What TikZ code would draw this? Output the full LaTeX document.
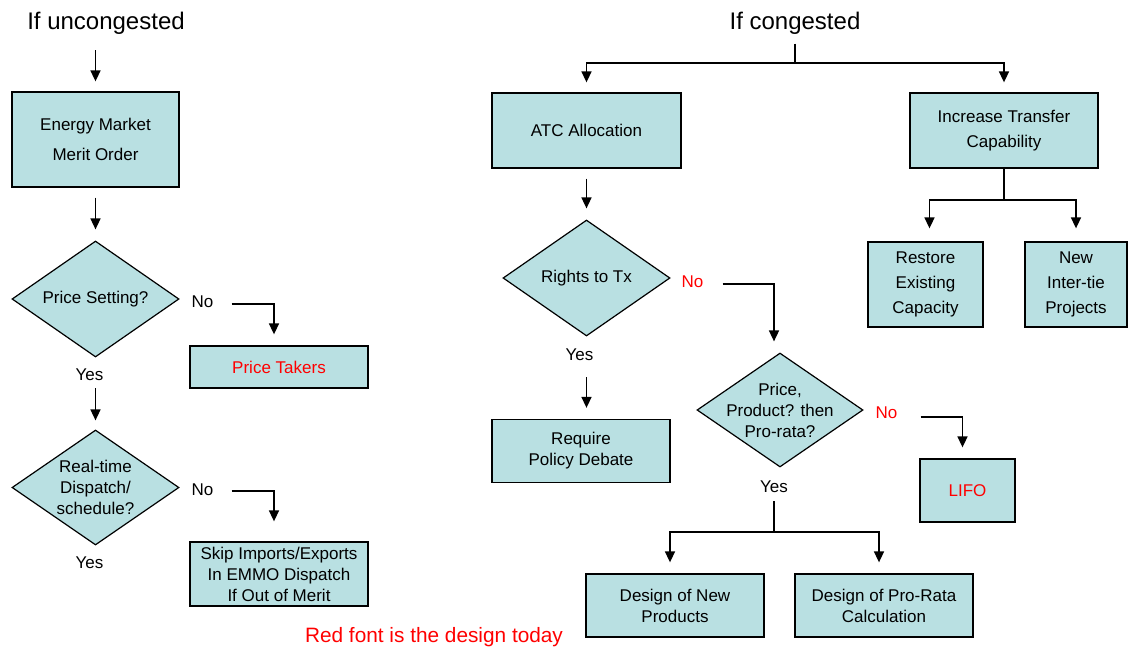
\documentclass[tikz,border=0pt]{standalone}
\usepackage{fontspec}
\setmainfont{Liberation Sans}
\usetikzlibrary{arrows.meta,shapes.geometric}
\definecolor{boxfill}{RGB}{185,224,226}

\begin{document}
\begin{tikzpicture}[
    x=1pt,
    y=-1pt,
    box/.style={
        draw,
        fill=boxfill,
        line width=1.3pt,
        align=center,
        inner sep=0pt,
        font=\fontsize{17}{21}\selectfont
    },
    decision/.style={
        diamond,
        draw,
        fill=boxfill,
        line width=1.2pt,
        inner sep=0pt
    },
    qtext/.style={
        align=center,
        inner sep=0pt,
        font=\fontsize{17}{21}\selectfont
    },
    answer/.style={
        anchor=base,
        inner sep=0pt,
        font=\fontsize{17}{21}\selectfont
    },
    headline/.style={
        anchor=base,
        inner sep=0pt,
        font=\fontsize{24}{28}\selectfont
    },
    arr/.style={
        line width=1.6pt,
        -{Triangle[length=11pt,width=10pt]}
    },
    link/.style={
        line width=1.6pt
    }
]

\useasboundingbox (0,0) rectangle (1128,646);

% =================================================
% Titles
% =================================================

\node[headline] (uncong) at (106,29.5) {If uncongested};
\node[headline] (cong)   at (795,29.5) {If congested};

% =================================================
% Left branch: uncongested
% =================================================

\node[box, minimum width=167pt, minimum height=95pt,
      font=\fontsize{17}{30}\selectfont] (energy) at (95.5,139.5)
    {Energy Market\\Merit Order};

\node[decision, minimum width=167pt, minimum height=116pt,
      label={[qtext]center:Price Setting?}] (price) at (95.5,299) {};

\node[answer] (no1)  at (202.5,307) {No};
\node[answer] (yes1) at (89.5,380)  {Yes};

\node[box, minimum width=178pt, minimum height=42pt,
      text=red] (takers) at (279,367) {Price Takers};

\node[decision, minimum width=167pt, minimum height=115pt,
      label={[qtext]center:Real-time\\Dispatch/\\schedule?}] (realtime) at (95.5,487.5) {};

\node[answer] (no2)  at (202.5,495) {No};
\node[answer] (yes2) at (89.5,568)  {Yes};

\node[box, minimum width=178pt, minimum height=64pt] (skip) at (279,574)
    {Skip Imports/Exports\\In EMMO Dispatch\\If Out of Merit};

% =================================================
% Right branch: congested
% =================================================

\node[box, minimum width=189pt, minimum height=75pt] (atc) at (586.5,130.5)
    {ATC Allocation};

\node[box, minimum width=188pt, minimum height=75pt,
      font=\fontsize{17}{25}\selectfont] (increase) at (1004,130.5)
    {Increase Transfer\\Capability};

\node[box, minimum width=115pt, minimum height=85pt,
      font=\fontsize{17}{25}\selectfont] (restore) at (925.5,284.5)
    {Restore\\Existing\\Capacity};

\node[box, minimum width=102pt, minimum height=85pt,
      font=\fontsize{17}{25}\selectfont] (newtie) at (1076,284.5)
    {New\\Inter-tie\\Projects};

\node[decision, minimum width=167pt, minimum height=116pt,
      label={[qtext]center:Rights to Tx}] (rights) at (586.5,278) {};

\node[answer, text=red] (no3) at (692.5,287) {No};
\node[answer]          (yes3) at (579.5,360) {Yes};

\node[box, minimum width=178pt, minimum height=63pt] (policy) at (581,451)
    {Require\\Policy Debate};

\node[decision, minimum width=166pt, minimum height=114pt,
      label={[qtext]center:{Price,\\Product? then\\Pro-rata?}}] (prorata) at (780,410) {};

\node[answer, text=red] (no4) at (886.5,418) {No};
\node[answer]          (yes4) at (774,492)  {Yes};

\node[box, minimum width=95pt, minimum height=63pt,
      text=red] (lifo) at (967.5,490.5) {LIFO};

\node[box, minimum width=178pt, minimum height=63pt] (newprod) at (675,605.5)
    {Design of New\\Products};
\node[box, minimum width=178pt, minimum height=63pt] (calc) at (884,605.5)
    {Design of Pro-Rata\\Calculation};

% note at the bottom
\node[anchor=base, inner sep=0pt, text=red,
      font=\fontsize{20.8}{24}\selectfont] (note) at (434,642)
    {Red font is the design today};

% =================================================
% Branch points
% =================================================

\coordinate (congsplit) at (795,63);
\coordinate (incsplit)  at (1004,200);
\coordinate (yessplit)  at (774,532);

% =================================================
% Connectors, left
% =================================================

\draw[arr, shorten <=15.5pt, shorten >=10pt] (uncong.south -| energy.north) -- (energy.north);
\draw[arr, shorten <=10pt, shorten >=11pt] (energy.south) -- (price.north);
\draw[arr, shorten <=18pt, shorten >=11pt] ([yshift=-3pt]no1.east) -| ([xshift=-5pt]takers.north);
\draw[arr, shorten <=8pt, shorten >=9pt] (yes1.south -| realtime.north) -- (realtime.north);
\draw[arr, shorten <=18pt, shorten >=20pt] ([yshift=-2pt]no2.east) -| ([xshift=-5pt]skip.north);

% =================================================
% Connectors, right
% =================================================

\draw[link, shorten <=9pt] (cong.south) -- (congsplit);
\draw[arr, shorten >=10pt] (congsplit) -| (atc.north);
\draw[arr, shorten >=10pt] (congsplit) -| (increase.north);

\draw[link] (increase.south) -- (incsplit);
\draw[arr, shorten >=13pt] (incsplit) -| ([xshift=4pt]restore.north);
\draw[arr, shorten >=13pt] (incsplit) -| (newtie.north);

\draw[arr, shorten <=10pt, shorten >=11pt] (atc.south) -- (rights.north);
\draw[arr, shorten <=19pt, shorten >=11pt] ([yshift=-3pt]no3.east) -| ([xshift=-6pt]prorata.north);
\draw[arr, shorten <=17pt, shorten >=11pt] (yes3.south -| rights.south) -- (rights.south |- policy.north);

\draw[arr, shorten <=23pt, shorten >=11pt] ([yshift=-5pt]no4.east) -| ([xshift=-5pt]lifo.north);
\draw[link, shorten <=9pt] (yes4.south) -- (yessplit);
\draw[arr, shorten >=11pt] (yessplit) -| ([xshift=-5pt]newprod.north);
\draw[arr, shorten >=11pt] (yessplit) -| ([xshift=-5pt]calc.north);

\end{tikzpicture}
\end{document}
